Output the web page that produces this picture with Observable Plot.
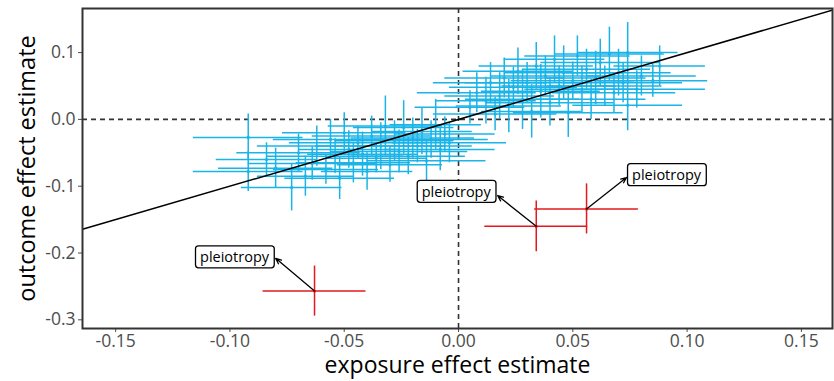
<!DOCTYPE html>
<html>
<head>
<meta charset="utf-8">
<script src="https://cdn.jsdelivr.net/npm/d3@7"></script>
<script src="https://cdn.jsdelivr.net/npm/@observablehq/plot@0.6"></script>
<style>
  html, body { margin: 0; padding: 0; background: #fff; }
  #chart svg { display: block; }
</style>
</head>
<body>
<div id="chart"></div>
<script>
// Blue (valid instruments): exposure estimate, outcome estimate, SE-bars (half widths)
const blueX  = [-0.092,-0.092,-0.084,-0.080,-0.073,-0.070,-0.067,-0.064,-0.062,-0.058,-0.056,-0.054,-0.052,-0.050,-0.048,-0.046,-0.044,-0.042,-0.040,-0.038,-0.036,-0.034,-0.032,-0.030,-0.028,-0.026,-0.024,-0.022,-0.020,-0.018,-0.016,-0.014,-0.012,-0.010,-0.008,-0.006,-0.004,
                 0.005,0.008,0.012,0.014,0.016,0.018,0.020,0.022,0.024,0.026,0.028,0.030,0.032,0.034,0.036,0.038,0.040,0.042,0.044,0.046,0.048,0.050,0.052,0.054,0.056,0.058,0.060,0.062,0.064,0.066,0.068,0.070,0.072,0.074,0.074,0.078,0.080,0.085,0.088];
const blueY  = [-0.027,-0.078,-0.060,-0.073,-0.102,-0.050,-0.085,-0.066,-0.040,-0.075,-0.030,-0.055,-0.088,-0.020,-0.045,-0.065,-0.035,-0.052,-0.078,-0.025,-0.058,-0.040,-0.010,-0.068,-0.032,-0.048,-0.012,-0.055,-0.028,-0.040,-0.018,-0.062,-0.030,-0.008,-0.045,-0.022,-0.035,
                 0.018,0.040,0.028,0.055,0.008,0.035,0.062,0.020,0.048,0.072,0.030,0.055,0.012,0.080,0.042,0.065,0.025,0.090,0.050,0.070,0.010,0.058,0.095,0.045,0.075,0.030,0.062,0.085,0.050,0.098,0.040,0.070,0.055,0.100,0.021,0.045,0.065,0.058,0.080];
const blueSX = [0.024,0.024,0.022,0.025,0.022,0.027,0.021,0.028,0.026,0.023,0.025,0.030,0.024,0.027,0.022,0.025,0.030,0.024,0.020,0.026,0.022,0.028,0.025,0.023,0.026,0.030,0.022,0.025,0.027,0.024,0.022,0.026,0.025,0.020,0.024,0.022,0.025,
                 0.024,0.026,0.022,0.025,0.027,0.024,0.026,0.023,0.028,0.024,0.025,0.027,0.022,0.025,0.026,0.024,0.028,0.022,0.025,0.026,0.024,0.027,0.023,0.025,0.028,0.024,0.022,0.026,0.025,0.024,0.027,0.023,0.026,0.022,0.024,0.030,0.024,0.024,0.020];
const blueSY = [0.035,0.030,0.025,0.030,0.035,0.028,0.030,0.025,0.030,0.022,0.030,0.026,0.032,0.030,0.028,0.030,0.024,0.033,0.028,0.030,0.022,0.035,0.045,0.026,0.030,0.032,0.040,0.028,0.030,0.025,0.035,0.030,0.028,0.038,0.032,0.026,0.030,
                 0.025,0.030,0.035,0.030,0.025,0.035,0.030,0.040,0.030,0.035,0.045,0.030,0.040,0.035,0.040,0.030,0.035,0.035,0.030,0.040,0.037,0.028,0.030,0.035,0.030,0.030,0.040,0.035,0.030,0.040,0.030,0.035,0.030,0.045,0.038,0.028,0.030,0.025,0.030];

// Red (pleiotropic instruments)
const redX  = [-0.063, 0.034, 0.056];
const redY  = [-0.257, -0.160, -0.134];
const redSX = [0.0225, 0.0225, 0.0227];
const redSY = [0.0375, 0.038, 0.0375];
const redLabel = ["pleiotropy", "pleiotropy", "pleiotropy"];
// label anchor (box centre) and arrow tip positions, in data units
const labelX = [-0.098, -0.001, 0.091];
const labelY = [-0.207, -0.109, -0.084];
const tipX   = [-0.080, 0.0171, 0.0735];
const tipY   = [-0.208, -0.114, -0.087];

// fitted causal effect (line through origin)
const slope = 1.0;

const xTicks = [-0.15, -0.10, -0.05, 0.00, 0.05, 0.10, 0.15];
const yTicks = [-0.3, -0.2, -0.1, 0.0, 0.1];
const xDomain = [-0.1645, 0.1636];
const yDomain = [-0.313, 0.166];

const blue = blueX.map((x, i) => ({x, y: blueY[i], sx: blueSX[i], sy: blueSY[i]}));
const red = redX.map((x, i) => ({x, y: redY[i], sx: redSX[i], sy: redSY[i], label: redLabel[i],
  lx: labelX[i], ly: labelY[i], tx: tipX[i], ty: tipY[i]}));
const fitLine = xDomain.map(x => ({x, y: slope * x}));

const BLUE = "#1ab4e8";
const RED = "#e3191e";
const fmtX = d => (d < 0 ? "-" : "") + Math.abs(d).toFixed(2);
const fmtY = d => (d < 0 ? "-" : "") + Math.abs(d).toFixed(1);

const chart = Plot.plot({
  width: 834,
  height: 381,
  marginLeft: 82,
  marginRight: 2,
  marginTop: 8,
  marginBottom: 53,
  style: {fontFamily: "'Open Sans', sans-serif", fontSize: "17.5px", color: "#4d4d4d", background: "#fff"},
  x: {domain: xDomain, ticks: xTicks, tickFormat: fmtX, tickSize: 4, tickPadding: 2, label: null},
  y: {domain: yDomain, ticks: yTicks, tickFormat: fmtY, tickSize: 4, tickPadding: 3, label: null},
  marks: [
    Plot.ruleX([0], {stroke: "#333", strokeWidth: 1.6, strokeDasharray: "5,4"}),
    Plot.ruleY([0], {stroke: "#333", strokeWidth: 1.6, strokeDasharray: "5,4"}),
    Plot.ruleY(blue, {y: "y", x1: d => d.x - d.sx, x2: d => d.x + d.sx, stroke: BLUE, strokeWidth: 1.5}),
    Plot.ruleX(blue, {x: "x", y1: d => d.y - d.sy, y2: d => d.y + d.sy, stroke: BLUE, strokeWidth: 1.5}),
    Plot.dot(blue, {x: "x", y: "y", r: 1.6, fill: BLUE}),
    Plot.ruleY(red, {y: "y", x1: d => d.x - d.sx, x2: d => d.x + d.sx, stroke: RED, strokeWidth: 1.5}),
    Plot.ruleX(red, {x: "x", y1: d => d.y - d.sy, y2: d => d.y + d.sy, stroke: RED, strokeWidth: 1.5}),
    Plot.dot(red, {x: "x", y: "y", r: 1.6, fill: RED}),
    Plot.line(fitLine, {x: "x", y: "y", stroke: "#000", strokeWidth: 1.5, clip: true}),
    Plot.arrow(red, {x1: "x", y1: "y", x2: "tx", y2: "ty", stroke: "#000", strokeWidth: 1.3, headLength: 7, headAngle: 45}),
    Plot.text(red, {x: "lx", y: "ly", text: "label", fill: "#000", fontSize: 14.5, className: "plab"}),
    Plot.frame({stroke: "#333", strokeWidth: 2}),
    Plot.text(["exposure effect estimate"], {frameAnchor: "bottom", textAnchor: "middle", lineAnchor: "middle", dy: 37, fontSize: 23, fill: "#000"}),
    Plot.text(["outcome effect estimate"], {frameAnchor: "left", textAnchor: "middle", lineAnchor: "middle", dx: -55, rotate: -90, fontSize: 23.5, fill: "#000"})
  ]
});

document.getElementById("chart").appendChild(chart);

// draw rounded label boxes behind the pleiotropy labels
d3.select(chart).selectAll("g.plab text").each(function() {
  const b = this.getBBox();
  const padX = 4.5, padY = 1.5;
  const r = d3.select(this.parentNode).insert("rect", () => this)
    .attr("x", b.x - padX).attr("y", b.y - padY)
    .attr("width", b.width + 2 * padX).attr("height", b.height + 2 * padY)
    .attr("rx", 3).attr("ry", 3)
    .attr("fill", "#fff").attr("stroke", "#000").attr("stroke-width", 1.3);
  const t = this.getAttribute("transform");
  if (t) r.attr("transform", t);
});
</script>
</body>
</html>
